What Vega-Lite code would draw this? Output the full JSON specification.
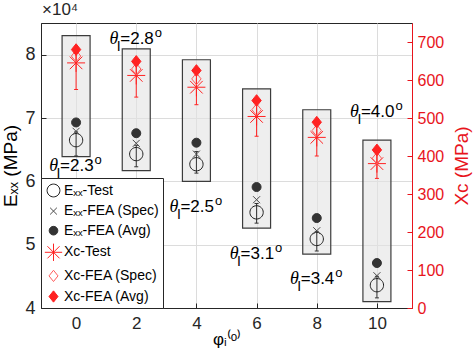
{
"$schema": "https://vega.github.io/schema/vega-lite/v6.json",
"width": 371, "height": 285, "autosize": "none",
"padding": {"left": 41, "top": 23, "right": 62, "bottom": 46},
"background": "white",
"title": {"text": "×10⁴", "anchor": "start", "frame": "group", "fontSize": 17, "fontWeight": "normal", "font": "Liberation Sans", "color": "#262626", "offset": 4, "dx": 1},
"config": {
  "view": {"stroke": "#262626", "strokeWidth": 1},
  "axis": {"labelFont": "Liberation Sans", "titleFont": "Liberation Sans", "domainColor": "#262626", "tickColor": "#262626", "labelColor": "#262626", "titleColor": "#000000", "titleFontWeight": "normal", "gridColor": "#dcdcdc", "gridWidth": 1, "tickSize": -5, "domainWidth": 1},
  "legend": {"orient": "bottom-left", "offset": 0, "padding": 3, "strokeColor": "#262626", "fillColor": "#ffffff", "labelFont": "Liberation Sans", "labelFontSize": 14, "labelColor": "#000000", "symbolSize": 300, "symbolStrokeWidth": 1, "rowPadding": 2.6, "labelOffset": 1}
},
"datasets": {
  "boxes": [
    {"phi": 0, "lo": 63900, "hi": 83000},
    {"phi": 2, "lo": 61700, "hi": 80900},
    {"phi": 4, "lo": 60000, "hi": 79200},
    {"phi": 6, "lo": 52600, "hi": 74600},
    {"phi": 8, "lo": 48500, "hi": 71300},
    {"phi": 10, "lo": 41000, "hi": 66500}
  ],
  "exxErr": [
    {"phi": 0, "lo": 64000, "hi": 67800},
    {"phi": 2, "lo": 62300, "hi": 65700},
    {"phi": 4, "lo": 61300, "hi": 64700},
    {"phi": 6, "lo": 53400, "hi": 56500},
    {"phi": 8, "lo": 49000, "hi": 52100},
    {"phi": 10, "lo": 41600, "hi": 45000}
  ],
  "xcErr": [
    {"phi": 0, "lo": 575, "hi": 684},
    {"phi": 2, "lo": 555, "hi": 651},
    {"phi": 4, "lo": 535, "hi": 625},
    {"phi": 6, "lo": 452, "hi": 546},
    {"phi": 8, "lo": 400, "hi": 489},
    {"phi": 10, "lo": 341, "hi": 416}
  ],
  "exx": [
    {"phi": 0, "series": "Eₓₓ-Test", "value": 66500},
    {"phi": 0, "series": "Eₓₓ-FEA (Spec)", "value": 67900},
    {"phi": 0, "series": "Eₓₓ-FEA (Avg)", "value": 69300},
    {"phi": 2, "series": "Eₓₓ-Test", "value": 64300},
    {"phi": 2, "series": "Eₓₓ-FEA (Spec)", "value": 66000},
    {"phi": 2, "series": "Eₓₓ-FEA (Avg)", "value": 67600},
    {"phi": 4, "series": "Eₓₓ-Test", "value": 62700},
    {"phi": 4, "series": "Eₓₓ-FEA (Spec)", "value": 64300},
    {"phi": 4, "series": "Eₓₓ-FEA (Avg)", "value": 66100},
    {"phi": 6, "series": "Eₓₓ-Test", "value": 55100},
    {"phi": 6, "series": "Eₓₓ-FEA (Spec)", "value": 57100},
    {"phi": 6, "series": "Eₓₓ-FEA (Avg)", "value": 59100},
    {"phi": 8, "series": "Eₓₓ-Test", "value": 50900},
    {"phi": 8, "series": "Eₓₓ-FEA (Spec)", "value": 52200},
    {"phi": 8, "series": "Eₓₓ-FEA (Avg)", "value": 54200},
    {"phi": 10, "series": "Eₓₓ-Test", "value": 43600},
    {"phi": 10, "series": "Eₓₓ-FEA (Spec)", "value": 45100},
    {"phi": 10, "series": "Eₓₓ-FEA (Avg)", "value": 47100}
  ],
  "xc": [
    {"phi": 0, "series": "Xᴄ-Test", "value": 645},
    {"phi": 0, "series": "Xᴄ-FEA (Spec)", "value": 663},
    {"phi": 0, "series": "Xᴄ-FEA (Avg)", "value": 680},
    {"phi": 2, "series": "Xᴄ-Test", "value": 612},
    {"phi": 2, "series": "Xᴄ-FEA (Spec)", "value": 629},
    {"phi": 2, "series": "Xᴄ-FEA (Avg)", "value": 649},
    {"phi": 4, "series": "Xᴄ-Test", "value": 581},
    {"phi": 4, "series": "Xᴄ-FEA (Spec)", "value": 603},
    {"phi": 4, "series": "Xᴄ-FEA (Avg)", "value": 625},
    {"phi": 6, "series": "Xᴄ-Test", "value": 504},
    {"phi": 6, "series": "Xᴄ-FEA (Spec)", "value": 522},
    {"phi": 6, "series": "Xᴄ-FEA (Avg)", "value": 546},
    {"phi": 8, "series": "Xᴄ-Test", "value": 449},
    {"phi": 8, "series": "Xᴄ-FEA (Spec)", "value": 467},
    {"phi": 8, "series": "Xᴄ-FEA (Avg)", "value": 489},
    {"phi": 10, "series": "Xᴄ-Test", "value": 380},
    {"phi": 10, "series": "Xᴄ-FEA (Spec)", "value": 394},
    {"phi": 10, "series": "Xᴄ-FEA (Avg)", "value": 416}
  ],
  "labels": [
    {"phi": 0, "y": 61670, "eq": "=2.3"},
    {"phi": 2, "y": 81730, "eq": "=2.8"},
    {"phi": 4, "y": 55210, "eq": "=2.5"},
    {"phi": 6, "y": 47760, "eq": "=3.1"},
    {"phi": 8, "y": 43830, "eq": "=3.4"},
    {"phi": 10, "y": 70080, "eq": "=4.0"}
  ]
},
"layer": [
  {"layer": [
    {"data": {"name": "boxes"},
     "mark": {"type": "bar", "width": 28, "fill": "#e2e2e2", "fillOpacity": 0.6, "stroke": "#3c3c3c", "strokeWidth": 1.2},
     "encoding": {
       "x": {"field": "phi", "type": "quantitative", "scale": {"domain": [-1, 11], "nice": false}, "axis": {"values": [0, 2, 4, 6, 8, 10], "grid": true, "labelFontSize": 17, "labelPadding": 12, "title": "φᵢ⁽ᵒ⁾", "titleFontSize": 17, "titlePadding": 0}},
       "y": {"field": "lo", "type": "quantitative", "scale": {"domain": [40000, 85000], "nice": false, "zero": false}, "axis": {"values": [40000, 50000, 60000, 70000, 80000], "labelExpr": "datum.value/10000", "grid": true, "labelFontSize": 18, "labelPadding": 11, "title": "Eₓₓ (MPa)", "titleFontSize": 19, "titlePadding": 4}},
       "y2": {"field": "hi"}
     }},
    {"data": {"name": "exxErr"},
     "mark": {"type": "rule", "color": "#333333", "strokeWidth": 1},
     "encoding": {
       "x": {"field": "phi", "type": "quantitative", "scale": {"domain": [-1, 11], "nice": false}, "axis": {"values": [0, 2, 4, 6, 8, 10], "grid": true, "labelFontSize": 17, "labelPadding": 12, "title": "φᵢ⁽ᵒ⁾", "titleFontSize": 17, "titlePadding": 0}},
       "y": {"field": "lo", "type": "quantitative", "scale": {"domain": [40000, 85000], "nice": false, "zero": false}, "axis": {"values": [40000, 50000, 60000, 70000, 80000], "labelExpr": "datum.value/10000", "grid": true, "labelFontSize": 18, "labelPadding": 11, "title": "Eₓₓ (MPa)", "titleFontSize": 19, "titlePadding": 4}},
       "y2": {"field": "hi"}
     }},
    {"data": {"name": "exxErr"},
     "mark": {"type": "tick", "orient": "horizontal", "size": 4, "thickness": 1, "color": "#333333", "opacity": 1},
     "encoding": {
       "x": {"field": "phi", "type": "quantitative", "scale": {"domain": [-1, 11], "nice": false}, "axis": {"values": [0, 2, 4, 6, 8, 10], "grid": true, "labelFontSize": 17, "labelPadding": 12, "title": "φᵢ⁽ᵒ⁾", "titleFontSize": 17, "titlePadding": 0}},
       "y": {"field": "lo", "type": "quantitative", "scale": {"domain": [40000, 85000], "nice": false, "zero": false}, "axis": {"values": [40000, 50000, 60000, 70000, 80000], "labelExpr": "datum.value/10000", "grid": true, "labelFontSize": 18, "labelPadding": 11, "title": "Eₓₓ (MPa)", "titleFontSize": 19, "titlePadding": 4}}
     }},
    {"data": {"name": "exxErr"},
     "mark": {"type": "tick", "orient": "horizontal", "size": 4, "thickness": 1, "color": "#333333", "opacity": 1},
     "encoding": {
       "x": {"field": "phi", "type": "quantitative", "scale": {"domain": [-1, 11], "nice": false}, "axis": {"values": [0, 2, 4, 6, 8, 10], "grid": true, "labelFontSize": 17, "labelPadding": 12, "title": "φᵢ⁽ᵒ⁾", "titleFontSize": 17, "titlePadding": 0}},
       "y": {"field": "hi", "type": "quantitative", "scale": {"domain": [40000, 85000], "nice": false, "zero": false}, "axis": {"values": [40000, 50000, 60000, 70000, 80000], "labelExpr": "datum.value/10000", "grid": true, "labelFontSize": 18, "labelPadding": 11, "title": "Eₓₓ (MPa)", "titleFontSize": 19, "titlePadding": 4}}
     }},
    {"data": {"name": "exx"},
     "mark": {"type": "point", "filled": true, "opacity": 1, "strokeWidth": 1, "size": 324},
     "encoding": {
       "x": {"field": "phi", "type": "quantitative", "scale": {"domain": [-1, 11], "nice": false}, "axis": {"values": [0, 2, 4, 6, 8, 10], "grid": true, "labelFontSize": 17, "labelPadding": 12, "title": "φᵢ⁽ᵒ⁾", "titleFontSize": 17, "titlePadding": 0}},
       "y": {"field": "value", "type": "quantitative", "scale": {"domain": [40000, 85000], "nice": false, "zero": false}, "axis": {"values": [40000, 50000, 60000, 70000, 80000], "labelExpr": "datum.value/10000", "grid": true, "labelFontSize": 18, "labelPadding": 11, "title": "Eₓₓ (MPa)", "titleFontSize": 19, "titlePadding": 4}},
       "shape": {"field": "series", "type": "nominal", "scale": {"domain": ["Eₓₓ-Test", "Eₓₓ-FEA (Spec)", "Eₓₓ-FEA (Avg)", "Xᴄ-Test", "Xᴄ-FEA (Spec)", "Xᴄ-FEA (Avg)"], "range": ["M0.74,0A0.74,0.74 0 1,1 -0.74,0A0.74,0.74 0 1,1 0.74,0Z", "M-0.39,-0.39L0.39,0.39M-0.39,0.39L0.39,-0.39", "M0.5,0A0.5,0.5 0 1,1 -0.5,0A0.5,0.5 0 1,1 0.5,0Z", "M-1,0L1,0M0,-1L0,1M-0.7,-0.7L0.7,0.7M-0.7,0.7L0.7,-0.7", "M0,-0.65L0.52,0L0,0.65L-0.52,0Z", "M0,-0.65L0.52,0L0,0.65L-0.52,0Z"]}, "legend": {"title": null}},
       "fill": {"field": "series", "type": "nominal", "scale": {"domain": ["Eₓₓ-Test", "Eₓₓ-FEA (Spec)", "Eₓₓ-FEA (Avg)", "Xᴄ-Test", "Xᴄ-FEA (Spec)", "Xᴄ-FEA (Avg)"], "range": ["transparent", "transparent", "#333333", "transparent", "transparent", "#ff2222"]}, "legend": {"title": null}},
       "stroke": {"field": "series", "type": "nominal", "scale": {"domain": ["Eₓₓ-Test", "Eₓₓ-FEA (Spec)", "Eₓₓ-FEA (Avg)", "Xᴄ-Test", "Xᴄ-FEA (Spec)", "Xᴄ-FEA (Avg)"], "range": ["#1e1e1e", "#4a4a4a", "#333333", "#ff2222", "#ff5c5c", "#ff2222"]}, "legend": {"title": null}}
     }},
    {"data": {"name": "labels"},
     "mark": {"type": "text", "text": "θ", "align": "right", "baseline": "alphabetic", "dx": -18, "font": "Liberation Serif", "fontStyle": "italic", "fontSize": 18, "color": "#000000"},
     "encoding": {
       "x": {"field": "phi", "type": "quantitative", "scale": {"domain": [-1, 11], "nice": false}, "axis": {"values": [0, 2, 4, 6, 8, 10], "grid": true, "labelFontSize": 17, "labelPadding": 12, "title": "φᵢ⁽ᵒ⁾", "titleFontSize": 17, "titlePadding": 0}},
       "y": {"field": "y", "type": "quantitative", "scale": {"domain": [40000, 85000], "nice": false, "zero": false}, "axis": {"values": [40000, 50000, 60000, 70000, 80000], "labelExpr": "datum.value/10000", "grid": true, "labelFontSize": 18, "labelPadding": 11, "title": "Eₓₓ (MPa)", "titleFontSize": 19, "titlePadding": 4}}
     }},
    {"data": {"name": "labels"},
     "mark": {"type": "text", "text": "I", "align": "left", "baseline": "alphabetic", "dx": -19.5, "dy": 7, "font": "Liberation Sans", "fontSize": 14, "color": "#000000"},
     "encoding": {
       "x": {"field": "phi", "type": "quantitative", "scale": {"domain": [-1, 11], "nice": false}, "axis": {"values": [0, 2, 4, 6, 8, 10], "grid": true, "labelFontSize": 17, "labelPadding": 12, "title": "φᵢ⁽ᵒ⁾", "titleFontSize": 17, "titlePadding": 0}},
       "y": {"field": "y", "type": "quantitative", "scale": {"domain": [40000, 85000], "nice": false, "zero": false}, "axis": {"values": [40000, 50000, 60000, 70000, 80000], "labelExpr": "datum.value/10000", "grid": true, "labelFontSize": 18, "labelPadding": 11, "title": "Eₓₓ (MPa)", "titleFontSize": 19, "titlePadding": 4}}
     }},
    {"data": {"name": "labels"},
     "mark": {"type": "text", "align": "left", "baseline": "alphabetic", "dx": -16, "font": "Liberation Sans", "fontSize": 17, "color": "#000000"},
     "encoding": {
       "x": {"field": "phi", "type": "quantitative", "scale": {"domain": [-1, 11], "nice": false}, "axis": {"values": [0, 2, 4, 6, 8, 10], "grid": true, "labelFontSize": 17, "labelPadding": 12, "title": "φᵢ⁽ᵒ⁾", "titleFontSize": 17, "titlePadding": 0}},
       "y": {"field": "y", "type": "quantitative", "scale": {"domain": [40000, 85000], "nice": false, "zero": false}, "axis": {"values": [40000, 50000, 60000, 70000, 80000], "labelExpr": "datum.value/10000", "grid": true, "labelFontSize": 18, "labelPadding": 11, "title": "Eₓₓ (MPa)", "titleFontSize": 19, "titlePadding": 4}},
       "text": {"field": "eq", "type": "nominal"}
     }},
    {"data": {"name": "labels"},
     "mark": {"type": "text", "text": "o", "align": "left", "baseline": "alphabetic", "dx": 18.5, "dy": -7, "font": "Liberation Sans", "fontSize": 13, "color": "#000000"},
     "encoding": {
       "x": {"field": "phi", "type": "quantitative", "scale": {"domain": [-1, 11], "nice": false}, "axis": {"values": [0, 2, 4, 6, 8, 10], "grid": true, "labelFontSize": 17, "labelPadding": 12, "title": "φᵢ⁽ᵒ⁾", "titleFontSize": 17, "titlePadding": 0}},
       "y": {"field": "y", "type": "quantitative", "scale": {"domain": [40000, 85000], "nice": false, "zero": false}, "axis": {"values": [40000, 50000, 60000, 70000, 80000], "labelExpr": "datum.value/10000", "grid": true, "labelFontSize": 18, "labelPadding": 11, "title": "Eₓₓ (MPa)", "titleFontSize": 19, "titlePadding": 4}}
     }}
  ]},
  {"layer": [
    {"data": {"name": "xcErr"},
     "mark": {"type": "rule", "color": "#ff2222", "strokeWidth": 1},
     "encoding": {
       "x": {"field": "phi", "type": "quantitative", "scale": {"domain": [-1, 11], "nice": false}, "axis": {"values": [0, 2, 4, 6, 8, 10], "grid": true, "labelFontSize": 17, "labelPadding": 12, "title": "φᵢ⁽ᵒ⁾", "titleFontSize": 17, "titlePadding": 0}},
       "y": {"field": "lo", "type": "quantitative", "scale": {"domain": [0, 750], "nice": false}, "axis": {"orient": "right", "values": [0, 100, 200, 300, 400, 500, 600, 700], "grid": false, "labelFontSize": 16, "labelPadding": 10, "labelColor": "#e8141c", "tickColor": "#e8141c", "domainColor": "#e8141c", "titleColor": "#e8141c", "title": "Xᴄ (MPa)", "titleFontSize": 19, "titleAngle": 270, "titleBaseline": "top", "titlePadding": 9}},
       "y2": {"field": "hi"}
     }},
    {"data": {"name": "xcErr"},
     "mark": {"type": "tick", "orient": "horizontal", "size": 4, "thickness": 1, "color": "#ff2222", "opacity": 1},
     "encoding": {
       "x": {"field": "phi", "type": "quantitative", "scale": {"domain": [-1, 11], "nice": false}, "axis": {"values": [0, 2, 4, 6, 8, 10], "grid": true, "labelFontSize": 17, "labelPadding": 12, "title": "φᵢ⁽ᵒ⁾", "titleFontSize": 17, "titlePadding": 0}},
       "y": {"field": "lo", "type": "quantitative", "scale": {"domain": [0, 750], "nice": false}, "axis": {"orient": "right", "values": [0, 100, 200, 300, 400, 500, 600, 700], "grid": false, "labelFontSize": 16, "labelPadding": 10, "labelColor": "#e8141c", "tickColor": "#e8141c", "domainColor": "#e8141c", "titleColor": "#e8141c", "title": "Xᴄ (MPa)", "titleFontSize": 19, "titleAngle": 270, "titleBaseline": "top", "titlePadding": 9}}
     }},
    {"data": {"name": "xc"},
     "mark": {"type": "point", "filled": true, "opacity": 1, "strokeWidth": 1, "size": 324},
     "encoding": {
       "x": {"field": "phi", "type": "quantitative", "scale": {"domain": [-1, 11], "nice": false}, "axis": {"values": [0, 2, 4, 6, 8, 10], "grid": true, "labelFontSize": 17, "labelPadding": 12, "title": "φᵢ⁽ᵒ⁾", "titleFontSize": 17, "titlePadding": 0}},
       "y": {"field": "value", "type": "quantitative", "scale": {"domain": [0, 750], "nice": false}, "axis": {"orient": "right", "values": [0, 100, 200, 300, 400, 500, 600, 700], "grid": false, "labelFontSize": 16, "labelPadding": 10, "labelColor": "#e8141c", "tickColor": "#e8141c", "domainColor": "#e8141c", "titleColor": "#e8141c", "title": "Xᴄ (MPa)", "titleFontSize": 19, "titleAngle": 270, "titleBaseline": "top", "titlePadding": 9}},
       "shape": {"field": "series", "type": "nominal", "scale": {"domain": ["Eₓₓ-Test", "Eₓₓ-FEA (Spec)", "Eₓₓ-FEA (Avg)", "Xᴄ-Test", "Xᴄ-FEA (Spec)", "Xᴄ-FEA (Avg)"], "range": ["M0.74,0A0.74,0.74 0 1,1 -0.74,0A0.74,0.74 0 1,1 0.74,0Z", "M-0.39,-0.39L0.39,0.39M-0.39,0.39L0.39,-0.39", "M0.5,0A0.5,0.5 0 1,1 -0.5,0A0.5,0.5 0 1,1 0.5,0Z", "M-1,0L1,0M0,-1L0,1M-0.7,-0.7L0.7,0.7M-0.7,0.7L0.7,-0.7", "M0,-0.65L0.52,0L0,0.65L-0.52,0Z", "M0,-0.65L0.52,0L0,0.65L-0.52,0Z"]}, "legend": {"title": null}},
       "fill": {"field": "series", "type": "nominal", "scale": {"domain": ["Eₓₓ-Test", "Eₓₓ-FEA (Spec)", "Eₓₓ-FEA (Avg)", "Xᴄ-Test", "Xᴄ-FEA (Spec)", "Xᴄ-FEA (Avg)"], "range": ["transparent", "transparent", "#333333", "transparent", "transparent", "#ff2222"]}, "legend": {"title": null}},
       "stroke": {"field": "series", "type": "nominal", "scale": {"domain": ["Eₓₓ-Test", "Eₓₓ-FEA (Spec)", "Eₓₓ-FEA (Avg)", "Xᴄ-Test", "Xᴄ-FEA (Spec)", "Xᴄ-FEA (Avg)"], "range": ["#1e1e1e", "#4a4a4a", "#333333", "#ff2222", "#ff5c5c", "#ff2222"]}, "legend": {"title": null}}
     }}
  ]}
],
"resolve": {"scale": {"y": "independent"}}
}
